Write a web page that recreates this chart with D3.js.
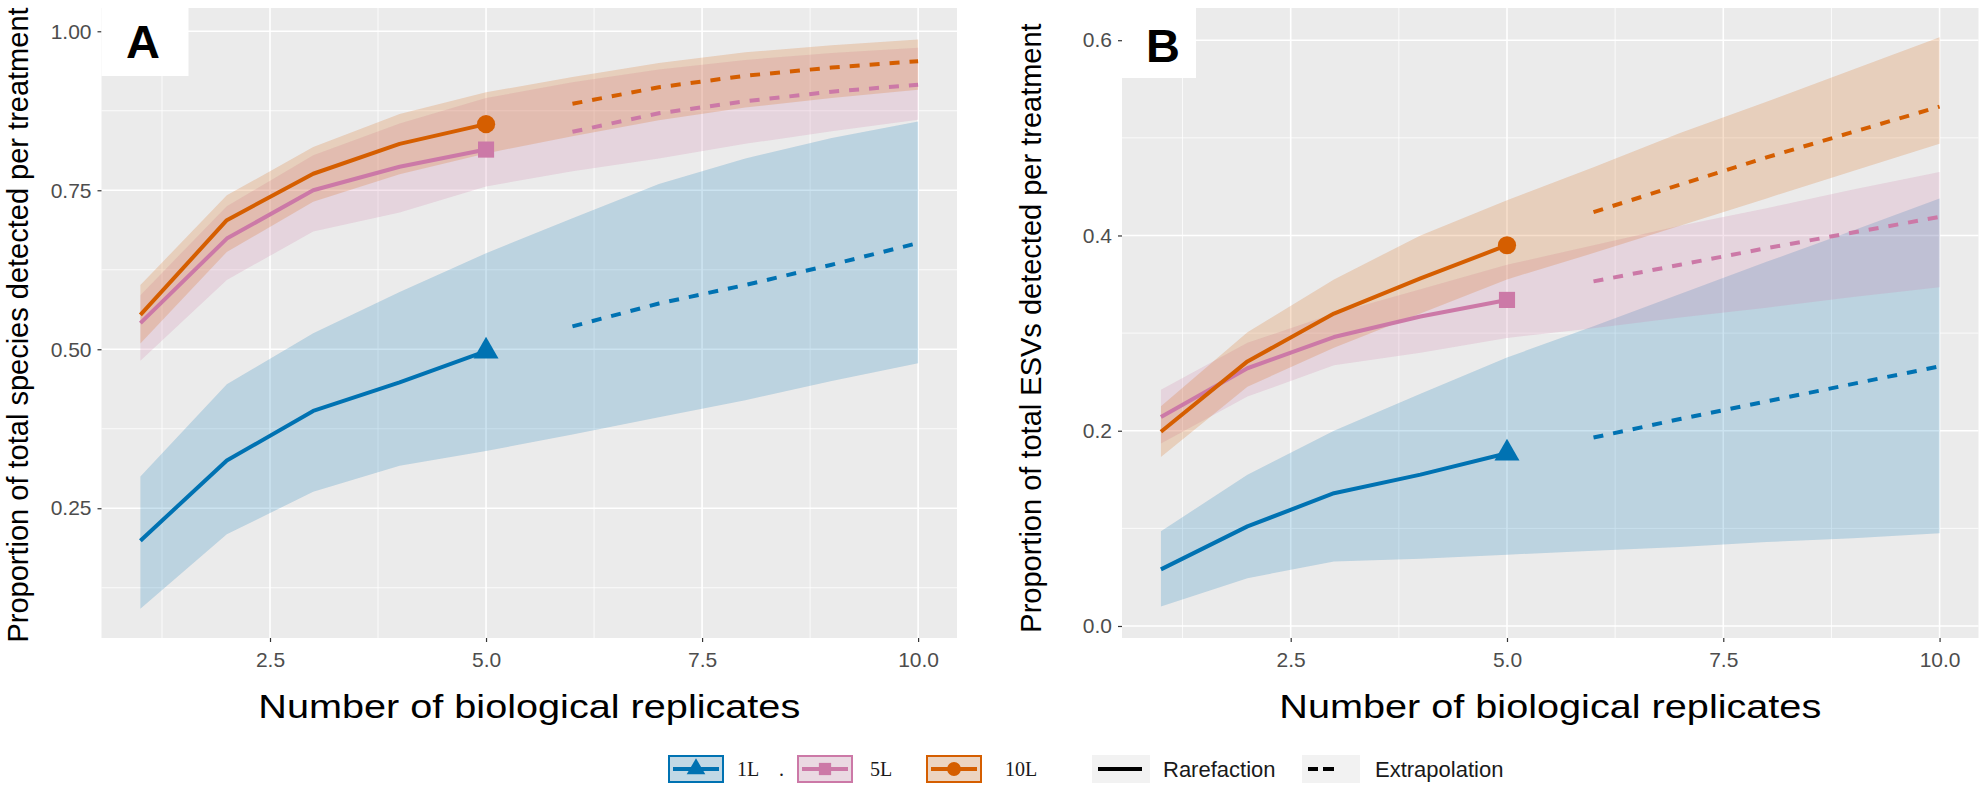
<!DOCTYPE html>
<html>
<head>
<meta charset="utf-8">
<script src="https://cdn.jsdelivr.net/npm/d3@7"></script>
<style>
  body { margin: 0; background: #ffffff; }
  svg { display: block; }
</style>
</head>
<body>
<svg id="chart" width="1984" height="792"></svg>
<script>
// ---------------- data ----------------
const allX = [1, 2, 3, 4, 5, 6, 7, 8, 9, 10];
const rareX = [1, 2, 3, 4, 5];
const extraX = [6, 7, 8, 9, 10];
const treatments = ["1L", "5L", "10L"];
const treatmentColors = ["#0072B2", "#CC79A7", "#D55E00"];
const treatmentShapes = ["triangle", "square", "circle"];

const xTickValues = [2.5, 5, 7.5, 10];
const xTickLabels = ["2.5", "5.0", "7.5", "10.0"];
const xMinor = [1.25, 3.75, 6.25, 8.75];

const aTickValues = [0.25, 0.5, 0.75, 1.0];
const aTickLabels = ["0.25", "0.50", "0.75", "1.00"];
const aMinor = [0.125, 0.375, 0.625, 0.875];

const bTickValues = [0, 0.2, 0.4, 0.6];
const bTickLabels = ["0.0", "0.2", "0.4", "0.6"];
const bMinor = [0.1, 0.3, 0.5];

// Panel A: species
const A_1L_rare  = [0.199, 0.325, 0.403, 0.448, 0.497];
const A_1L_extra = [0.536, 0.572, 0.601, 0.633, 0.667];
const A_1L_lower = [0.092, 0.209, 0.276, 0.317, 0.340, 0.366, 0.393, 0.420, 0.450, 0.478];
const A_1L_upper = [0.300, 0.445, 0.525, 0.590, 0.651, 0.706, 0.760, 0.800, 0.832, 0.858];

const A_5L_rare  = [0.541, 0.674, 0.750, 0.787, 0.814];
const A_5L_extra = [0.842, 0.871, 0.890, 0.905, 0.916];
const A_5L_lower = [0.482, 0.609, 0.685, 0.715, 0.756, 0.780, 0.800, 0.823, 0.843, 0.861];
const A_5L_upper = [0.585, 0.725, 0.805, 0.855, 0.895, 0.920, 0.940, 0.955, 0.966, 0.974];

const A_10L_rare  = [0.554, 0.703, 0.776, 0.823, 0.854];
const A_10L_extra = [0.886, 0.912, 0.930, 0.943, 0.953];
const A_10L_lower = [0.509, 0.653, 0.732, 0.775, 0.808, 0.835, 0.860, 0.880, 0.895, 0.908];
const A_10L_upper = [0.601, 0.742, 0.818, 0.870, 0.904, 0.928, 0.950, 0.967, 0.978, 0.987];

// Panel B: ESVs
const B_1L_rare  = [0.058, 0.102, 0.136, 0.155, 0.177];
const B_1L_extra = [0.193, 0.212, 0.230, 0.248, 0.266];
const B_1L_lower = [0.020, 0.049, 0.066, 0.069, 0.073, 0.077, 0.081, 0.086, 0.090, 0.095];
const B_1L_upper = [0.097, 0.155, 0.200, 0.238, 0.275, 0.307, 0.340, 0.373, 0.405, 0.438];

const B_5L_rare  = [0.214, 0.264, 0.296, 0.317, 0.334];
const B_5L_extra = [0.353, 0.370, 0.387, 0.403, 0.419];
const B_5L_lower = [0.187, 0.235, 0.267, 0.280, 0.295, 0.305, 0.316, 0.326, 0.337, 0.347];
const B_5L_upper = [0.242, 0.290, 0.320, 0.345, 0.370, 0.390, 0.410, 0.428, 0.447, 0.465];

const B_10L_rare  = [0.199, 0.271, 0.320, 0.356, 0.390];
const B_10L_extra = [0.424, 0.452, 0.480, 0.506, 0.532];
const B_10L_lower = [0.173, 0.245, 0.285, 0.320, 0.355, 0.382, 0.410, 0.438, 0.466, 0.494];
const B_10L_upper = [0.225, 0.301, 0.355, 0.400, 0.436, 0.470, 0.505, 0.537, 0.570, 0.603];

const xTitle = "Number of biological replicates";
const aYTitle = "Proportion of total species detected per treatment";
const bYTitle = "Proportion of total ESVs detected per treatment";
const legendLines = ["Rarefaction", "Extrapolation"];

// ---------------- drawing ----------------
const svg = d3.select("#chart");
const SANS = "'Liberation Sans', Arial, Helvetica, sans-serif";
const SERIF = "'Liberation Serif', 'Times New Roman', serif";

function symbolType(shape) {
  return shape === "triangle" ? d3.symbolTriangle : shape === "square" ? d3.symbolSquare : d3.symbolCircle;
}

function drawPanel(p) {
  const x = d3.scaleLinear().domain([0.55, 10.45]).range([p.left, p.right]);
  const y = d3.scaleLinear().domain(p.yDomain).range([p.bottom, p.top]);
  const g = svg.append("g");

  g.append("rect").attr("x", p.left).attr("y", p.top)
    .attr("width", p.right - p.left).attr("height", p.bottom - p.top)
    .attr("fill", "#EBEBEB");

  // minor grid
  g.selectAll(".vminor").data(xMinor).enter().append("line")
    .attr("x1", d => x(d)).attr("x2", d => x(d)).attr("y1", p.top).attr("y2", p.bottom)
    .attr("stroke", "#ffffff").attr("stroke-width", 0.8);
  g.selectAll(".hminor").data(p.yMinor).enter().append("line")
    .attr("y1", d => y(d)).attr("y2", d => y(d)).attr("x1", p.left).attr("x2", p.right)
    .attr("stroke", "#ffffff").attr("stroke-width", 0.8);
  // major grid
  g.selectAll(".vmajor").data(xTickValues).enter().append("line")
    .attr("x1", d => x(d)).attr("x2", d => x(d)).attr("y1", p.top).attr("y2", p.bottom)
    .attr("stroke", "#ffffff").attr("stroke-width", 1.6);
  g.selectAll(".hmajor").data(p.yTicks).enter().append("line")
    .attr("y1", d => y(d)).attr("y2", d => y(d)).attr("x1", p.left).attr("x2", p.right)
    .attr("stroke", "#ffffff").attr("stroke-width", 1.6);

  const area = d3.area().x(d => x(d.x)).y0(d => y(d.lo)).y1(d => y(d.hi));
  const line = d3.line().x(d => x(d.x)).y(d => y(d.v));

  // ribbons
  p.series.forEach((s, i) => {
    const pts = allX.map((xx, k) => ({ x: xx, lo: s.lower[k], hi: s.upper[k] }));
    g.append("path").attr("d", area(pts))
      .attr("fill", treatmentColors[i]).attr("fill-opacity", 0.2);
  });
  // lines
  p.series.forEach((s, i) => {
    const r = rareX.map((xx, k) => ({ x: xx, v: s.rare[k] }));
    const e = extraX.map((xx, k) => ({ x: xx, v: s.extra[k] }));
    g.append("path").attr("d", line(r)).attr("fill", "none")
      .attr("stroke", treatmentColors[i]).attr("stroke-width", 4)
      .attr("stroke-linejoin", "round");
    g.append("path").attr("d", line(e)).attr("fill", "none")
      .attr("stroke", treatmentColors[i]).attr("stroke-width", 4)
      .attr("stroke-dasharray", "10,10");
    const last = r[r.length - 1];
    g.append("path")
      .attr("d", d3.symbol().type(symbolType(treatmentShapes[i])).size(treatmentShapes[i] === "triangle" ? 270 : 260)())
      .attr("transform", `translate(${x(last.x)},${y(last.v)})`)
      .attr("fill", treatmentColors[i]);
  });

  // axes
  const xAxis = d3.axisBottom(x).tickValues(xTickValues)
    .tickFormat((d, i) => xTickLabels[i]).tickSize(4).tickPadding(10);
  const gx = g.append("g").attr("transform", `translate(0,${p.bottom})`).call(xAxis);
  const yAxis = d3.axisLeft(y).tickValues(p.yTicks)
    .tickFormat((d, i) => p.yLabels[i]).tickSize(4).tickPadding(6);
  const gy = g.append("g").attr("transform", `translate(${p.left},0)`).call(yAxis);
  [gx, gy].forEach(a => {
    a.select(".domain").remove();
    a.selectAll(".tick line").attr("stroke", "#333333").attr("stroke-width", 1.2);
    a.selectAll(".tick text").attr("fill", "#4D4D4D")
      .style("font-family", SANS).style("font-size", "21px");
  });

  // titles
  g.append("text")
    .attr("x", (p.left + p.right) / 2).attr("y", 718)
    .attr("text-anchor", "middle")
    .attr("textLength", 542).attr("lengthAdjust", "spacingAndGlyphs")
    .style("font-family", SANS).style("font-size", "34px").attr("fill", "#000000")
    .text(xTitle);
  g.append("text")
    .attr("transform", `translate(${p.yTitleX},${p.yTitleY}) rotate(-90)`)
    .attr("text-anchor", "middle")
    .style("font-family", SANS).style("font-size", "29px").attr("fill", "#000000")
    .text(p.yTitle);

  // panel label box
  g.append("rect").attr("x", p.left).attr("y", p.top)
    .attr("width", p.boxW).attr("height", p.boxH - p.top).attr("fill", "#ffffff");
  g.append("text").attr("x", p.labelX).attr("y", p.labelY)
    .style("font-family", SANS).style("font-size", "47px").style("font-weight", "bold")
    .attr("fill", "#000000").text(p.label);
}

drawPanel({
  left: 101.5, right: 957, top: 8, bottom: 638,
  yDomain: [0.046, 1.0366], yTicks: aTickValues, yLabels: aTickLabels, yMinor: aMinor,
  series: [
    { rare: A_1L_rare, extra: A_1L_extra, lower: A_1L_lower, upper: A_1L_upper },
    { rare: A_5L_rare, extra: A_5L_extra, lower: A_5L_lower, upper: A_5L_upper },
    { rare: A_10L_rare, extra: A_10L_extra, lower: A_10L_lower, upper: A_10L_upper }
  ],
  yTitle: aYTitle, yTitleX: 28, yTitleY: 325,
  label: "A", labelX: 126, labelY: 58, boxW: 87, boxH: 76
});

drawPanel({
  left: 1122, right: 1978.5, top: 8, bottom: 638,
  yDomain: [-0.0123, 0.633], yTicks: bTickValues, yLabels: bTickLabels, yMinor: bMinor,
  series: [
    { rare: B_1L_rare, extra: B_1L_extra, lower: B_1L_lower, upper: B_1L_upper },
    { rare: B_5L_rare, extra: B_5L_extra, lower: B_5L_lower, upper: B_5L_upper },
    { rare: B_10L_rare, extra: B_10L_extra, lower: B_10L_lower, upper: B_10L_upper }
  ],
  yTitle: bYTitle, yTitleX: 1041, yTitleY: 328,
  label: "B", labelX: 1146, labelY: 62, boxW: 74, boxH: 78
});

// ---------------- legend ----------------
const lg = svg.append("g");
const keyY = 755, keyH = 28, keyW = 56, midY = keyY + keyH / 2;
const treatKeyX = [668, 797, 926];
const treatTextX = [737, 870, 1005];

treatments.forEach((t, i) => {
  const kx = treatKeyX[i];
  lg.append("rect").attr("x", kx).attr("y", keyY).attr("width", keyW).attr("height", keyH).attr("fill", "#F2F2F2");
  lg.append("rect").attr("x", kx + 1).attr("y", keyY + 1).attr("width", keyW - 2).attr("height", keyH - 2)
    .attr("fill", treatmentColors[i]).attr("fill-opacity", 0.2)
    .attr("stroke", treatmentColors[i]).attr("stroke-width", 2);
  lg.append("line").attr("x1", kx + 5).attr("x2", kx + keyW - 5).attr("y1", midY).attr("y2", midY)
    .attr("stroke", treatmentColors[i]).attr("stroke-width", 4);
  lg.append("path")
    .attr("d", d3.symbol().type(symbolType(treatmentShapes[i])).size(150)())
    .attr("transform", `translate(${kx + keyW / 2},${midY})`)
    .attr("fill", treatmentColors[i]);
  lg.append("text").attr("x", treatTextX[i]).attr("y", midY + 7)
    .style("font-family", SERIF).style("font-size", "20px").attr("fill", "#1a1a1a").text(t);
});
lg.append("text").attr("x", 779).attr("y", midY + 7)
  .style("font-family", SERIF).style("font-size", "20px").attr("fill", "#1a1a1a").text(".");

const lineKeyX = [1092, 1302];
const lineTextX = [1163, 1375];
legendLines.forEach((t, i) => {
  const kx = lineKeyX[i];
  lg.append("rect").attr("x", kx).attr("y", keyY).attr("width", 58).attr("height", keyH).attr("fill", "#F2F2F2");
  lg.append("line").attr("x1", kx + 6).attr("x2", kx + 50).attr("y1", midY).attr("y2", midY)
    .attr("stroke", "#000000").attr("stroke-width", 4)
    .attr("stroke-dasharray", i === 0 ? null : "10,5,11,18,3");
  lg.append("text").attr("x", lineTextX[i]).attr("y", midY + 8)
    .style("font-family", SANS).style("font-size", "22px").attr("fill", "#1a1a1a").text(t);
});
</script>
</body>
</html>
